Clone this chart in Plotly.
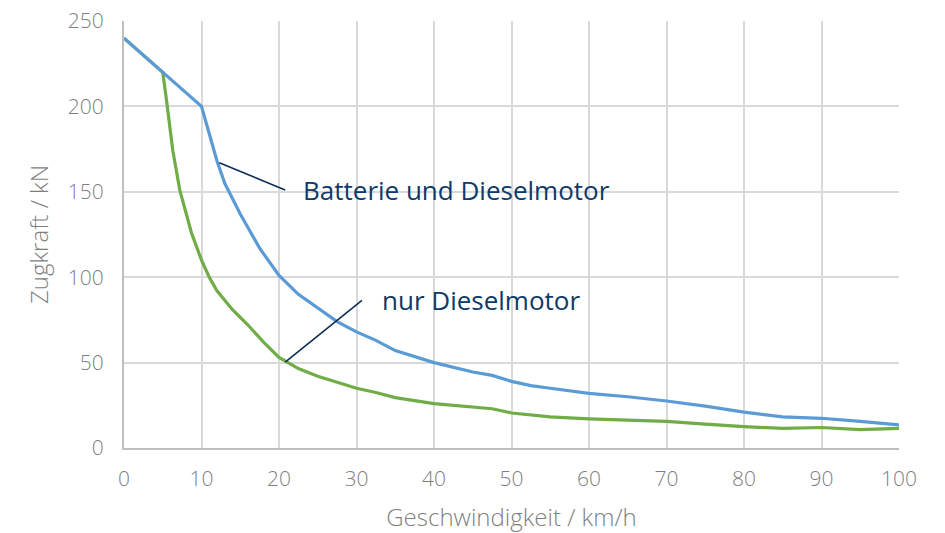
import plotly.graph_objects as go

# Batterie und Dieselmotor
speed_bat = [0, 5, 10, 11, 12, 13, 15, 17.5, 20, 22.5, 25, 27.5, 30, 32.5, 35, 40, 45, 47.5, 50, 52.5, 55, 60, 65, 70, 75, 80, 85, 90, 95, 100]
force_bat = [240, 220, 200, 184, 168, 155, 137, 117, 101, 90, 82, 74, 68, 63, 57, 50, 44.5, 42.5, 39, 36.5, 35, 32, 30, 27.5, 24.5, 21, 18.2, 17.4, 15.6, 13.5]

# nur Dieselmotor
speed_die = [0, 5, 5.5, 6.3, 7.2, 8.7, 10, 11, 12, 14, 16, 18, 20, 22.5, 25, 27.5, 30, 32.5, 35, 40, 45, 47.5, 50, 55, 60, 65, 70, 75, 80, 85, 90, 95, 100]
force_die = [240, 220, 203, 174, 151, 126, 110, 100, 92, 81, 72, 62, 53, 46.5, 42, 38.5, 35, 32.5, 29.5, 26, 24, 23, 20.5, 18.2, 17, 16.2, 15.6, 14, 12.5, 11.5, 12, 10.8, 11.5]

x_ticks = [0, 10, 20, 30, 40, 50, 60, 70, 80, 90, 100]
y_ticks = [0, 50, 100, 150, 200, 250]

label_bat = "Batterie und Dieselmotor"
label_die = "nur Dieselmotor"
# leader lines (data coords): start on curve, end near label
leader_bat = [(12.3, 167), (20.8, 151)]
leader_die = [(20.8, 50.3), (30.7, 86.5)]
text_bat_pos = (23.2, 151)
text_die_pos = (33.4, 86.5)

fig = go.Figure()
fig.add_trace(go.Scatter(x=speed_die, y=force_die, mode="lines",
                         line=dict(color="#70AD47", width=3.2), showlegend=False))
fig.add_trace(go.Scatter(x=speed_bat, y=force_bat, mode="lines",
                         line=dict(color="#5B9BD5", width=3.2), showlegend=False))

for (p0, p1) in [leader_bat, leader_die]:
    fig.add_shape(type="line", x0=p0[0], y0=p0[1], x1=p1[0], y1=p1[1],
                  xref="x", yref="y", line=dict(color="#0D2F57", width=1.6))

txtfont = dict(family="Open Sans", size=26, color="#0D3A68")
fig.add_annotation(x=text_bat_pos[0], y=text_bat_pos[1], text=label_bat, showarrow=False,
                   xanchor="left", yanchor="middle", font=txtfont, xshift=-3)
fig.add_annotation(x=text_die_pos[0], y=text_die_pos[1], text=label_die, showarrow=False,
                   xanchor="left", yanchor="middle", font=txtfont, xshift=-3)

tickfont = dict(family="Open Sans", size=21, color="#7F7F7F", weight=300)
titlefont = dict(family="Open Sans", size=24, color="#7F7F7F", weight=300)
fig.update_xaxes(range=[0, 100], tickvals=x_ticks, ticktext=[str(v) for v in x_ticks],
                 showgrid=True, gridcolor="#D9D9D9", gridwidth=2,
                 showline=True, linecolor="#BFBFBF", linewidth=2, zeroline=False,
                 ticks="", tickfont=tickfont, ticklabelstandoff=11,
                 title=dict(text="Geschwindigkeit / km/h", font=titlefont, standoff=22))
fig.update_yaxes(range=[0, 250], tickvals=y_ticks, ticktext=[str(v) for v in y_ticks],
                 showgrid=True, gridcolor="#D9D9D9", gridwidth=2,
                 showline=True, linecolor="#BFBFBF", linewidth=2, zeroline=False,
                 ticks="", tickfont=tickfont, ticklabelstandoff=14,
                 title=dict(text="Zugkraft / kN", font=titlefont, standoff=12))

fig.update_layout(width=945, height=533, margin=dict(l=124, r=46, t=21, b=85, autoexpand=False),
                  plot_bgcolor="white", paper_bgcolor="white")
fig.write_html("out.html", config={"displayModeBar": False},
               post_script="document.body.style.margin='0';")
